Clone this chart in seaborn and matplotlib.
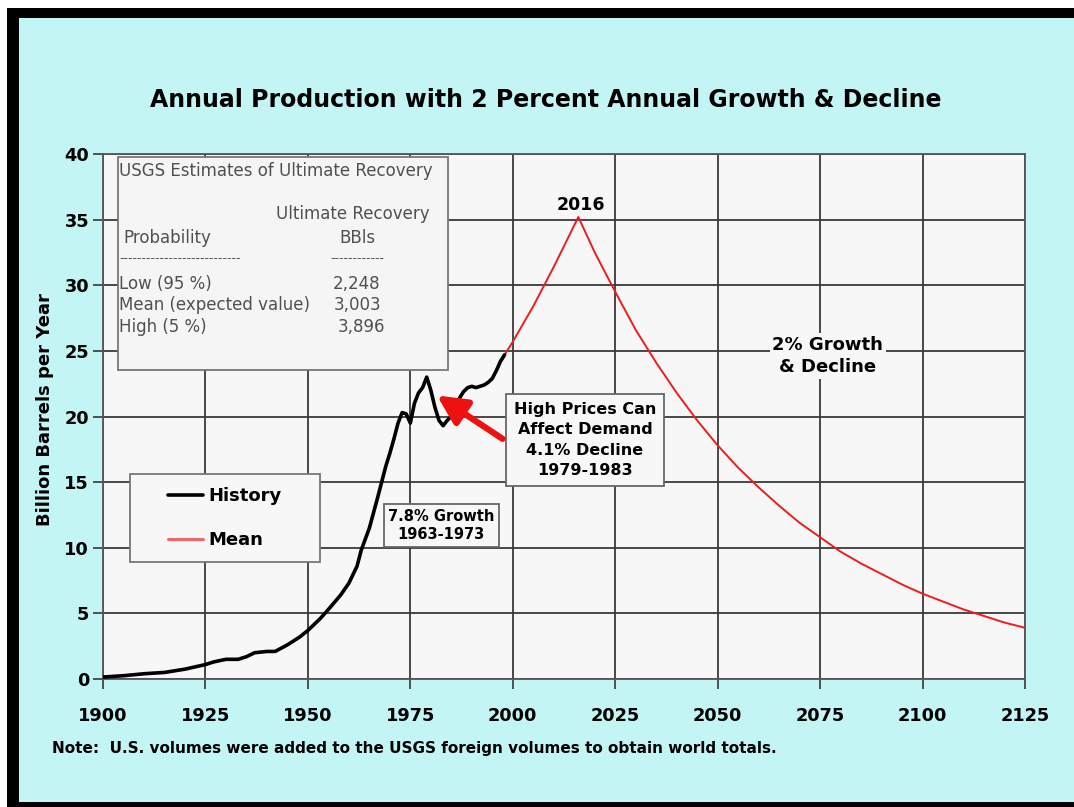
import matplotlib
matplotlib.use("Agg")
import matplotlib.pyplot as plt
from matplotlib.patches import Rectangle
import seaborn as sns
import pandas as pd

# ---------------- data ----------------
hist_years = [1900, 1905, 1910, 1915, 1920, 1925, 1927, 1930, 1933, 1935, 1937, 1940,
              1942, 1945, 1948, 1950, 1953, 1955, 1958, 1960, 1962, 1963, 1965, 1967,
              1969, 1970, 1971, 1972, 1973, 1974, 1975, 1976, 1977, 1978, 1979, 1980,
              1981, 1982, 1983, 1984, 1985, 1986, 1987, 1988, 1989, 1990, 1991, 1992,
              1993, 1994, 1995, 1996, 1997, 1998]
hist_values = [0.15, 0.25, 0.4, 0.5, 0.75, 1.1, 1.3, 1.5, 1.5, 1.7, 2.0, 2.1,
               2.1, 2.6, 3.2, 3.7, 4.6, 5.3, 6.4, 7.3, 8.6, 9.8, 11.5, 13.8,
               16.2, 17.2, 18.3, 19.5, 20.3, 20.2, 19.5, 21.0, 21.8, 22.2, 23.0, 22.0,
               20.7, 19.7, 19.3, 19.7, 20.0, 20.8, 21.4, 21.9, 22.2, 22.3, 22.2, 22.3,
               22.4, 22.6, 22.9, 23.5, 24.2, 24.7]

mean_years = [1998, 2000, 2005, 2010, 2016, 2020, 2025, 2030, 2035, 2040, 2045, 2050,
              2055, 2060, 2065, 2070, 2075, 2080, 2085, 2090, 2095, 2100, 2105, 2110,
              2115, 2120, 2125]
mean_values = [24.7, 25.7, 28.4, 31.4, 35.2, 32.5, 29.5, 26.6, 24.1, 21.8, 19.7, 17.8,
               16.1, 14.6, 13.2, 11.9, 10.8, 9.7, 8.8, 8.0, 7.2, 6.5, 5.9, 5.3,
               4.8, 4.3, 3.9]

x_ticks = [1900, 1925, 1950, 1975, 2000, 2025, 2050, 2075, 2100, 2125]
y_ticks = [0, 5, 10, 15, 20, 25, 30, 35, 40]

title = "Annual Production with 2 Percent Annual Growth & Decline"
ylabel = "Billion Barrels per Year"
note = "Note:  U.S. volumes were added to the USGS foreign volumes to obtain world totals."

usgs_title = "USGS Estimates of Ultimate Recovery"
prob_labels = ["Low (95 %)", "Mean (expected value)", "High (5 %)"]
recovery_values = ["2,248", "3,003", "3,896"]

# ---------------- style ----------------
sns.set_theme(style="white")
plt.rcParams['font.family'] = ['DejaVu Sans']
plt.rcParams['text.color'] = 'black'
plt.rcParams['xtick.labelcolor'] = 'black'
plt.rcParams['ytick.labelcolor'] = 'black'

fig = plt.figure(figsize=(10.74, 8.07), dpi=100)
fig.patch.set_facecolor("white")

W, H = 1074, 807
# black frame and cyan panel
fig.patches.append(Rectangle((7 / W, 0), 1, (H - 8) / H, transform=fig.transFigure,
                             facecolor="black", edgecolor="none", zorder=-10))
fig.patches.append(Rectangle((19 / W, 5 / H), 1, (H - 18 - 5) / H, transform=fig.transFigure,
                             facecolor="#c4f5f5", edgecolor="none", zorder=-9))

ax = fig.add_axes([103 / W, 1 - 679 / H, (1025 - 103) / W, (679 - 154) / H])
ax.set_facecolor("#f7f7f7")

df_hist = pd.DataFrame({"Year": hist_years, "Value": hist_values, "Series": "History"})
df_mean = pd.DataFrame({"Year": mean_years, "Value": mean_values, "Series": "Mean"})

sns.lineplot(data=df_mean, x="Year", y="Value", ax=ax, color="#ee1c1c", lw=1.4,
             label="Mean", zorder=4)
sns.lineplot(data=df_hist, x="Year", y="Value", ax=ax, color="black", lw=2.6,
             label="History", zorder=5)

ax.set_xlim(1900, 2125)
ax.set_ylim(0, 40)
ax.set_xticks(x_ticks)
ax.set_yticks(y_ticks)
ax.grid(True, color="#3a3a3a", lw=1.3, zorder=0)
ax.set_axisbelow(True)
for s in ax.spines.values():
    s.set_color("#555555")
    s.set_linewidth(1.3)
ax.tick_params(axis="both", which="both", direction="out", length=7, width=1.3,
               color="#444444", labelsize=12.8, labelcolor="black", left=True, bottom=True)
ax.tick_params(axis="x", pad=13)
ax.tick_params(axis="y", pad=3)
for lab in ax.get_xticklabels() + ax.get_yticklabels():
    lab.set_fontweight("bold")
ax.set_xlabel("")
ax.set_ylabel("")

# legend (frame drawn as a rectangle behind it)
ax.add_patch(Rectangle((1900 + (130 - 103) / 4.0978, (679 - 562) / 13.125),
                       (320 - 130) / 4.0978, (562 - 474) / 13.125,
                       facecolor="#f7f7f7", edgecolor="#777777", lw=1.3, zorder=6))
handles, labels = ax.get_legend_handles_labels()
order = [labels.index("History"), labels.index("Mean")]
leg = ax.legend([handles[i] for i in order], [labels[i] for i in order],
                loc="center left", bbox_to_anchor=((168 - 103) / 922, (679 - 518) / 525),
                frameon=False, prop={"weight": "bold", "size": 13}, handlelength=1.94,
                handletextpad=0.28, labelspacing=1.45, borderpad=0, borderaxespad=0,
                labelcolor="black")
leg.get_lines()[1].set_color("#ee6666")
leg.get_lines()[1].set_linewidth(2.2)
leg.set_zorder(7)

# USGS box
ax.add_patch(Rectangle((1903.7, 23.54), 1984.2 - 1903.7, 39.77 - 23.54,
                       facecolor="#f5f5f5", edgecolor="#777777", lw=1.3, zorder=6))
tcol = "#505050"
fs = 12
ax.text(1903.9, 38.7, usgs_title, ha="left", va="center", fontsize=fs, color=tcol, zorder=7)
ax.text(1961.0, 35.4, "Ultimate Recovery", ha="center", va="center", fontsize=fs, color=tcol, zorder=7)
ax.text(1905.0, 33.6, "Probability", ha="left", va="center", fontsize=fs, color=tcol, zorder=7)
ax.text(1962.0, 33.6, "BBls", ha="center", va="center", fontsize=fs, color=tcol, zorder=7)
ax.text(1903.9, 32.0, "-" * 27, ha="left", va="center", fontsize=9, color=tcol, zorder=7)
ax.text(1962.0, 32.0, "-" * 12, ha="center", va="center", fontsize=9, color=tcol, zorder=7)
for yv, lab, val, xo in zip([30.1, 28.5, 26.8], prob_labels, recovery_values, [1962.0, 1962.0, 1963.0]):
    ax.text(1903.8, yv, lab, ha="left", va="center", fontsize=fs, color=tcol, zorder=7)
    ax.text(xo, yv, val, ha="center", va="center", fontsize=fs, color=tcol, zorder=7)

# annotations
box = dict(boxstyle="square,pad=0.3", facecolor="#f7f7f7", edgecolor="#666666", lw=1.3)
ax.text(1982.5, 11.7, "7.8% Growth\n1963-1973", ha="center", va="center", fontsize=10.5,
        fontweight="bold", linespacing=1.3, bbox=box, zorder=7)
ax.text(2017.6, 18.2, "High Prices Can\nAffect Demand\n4.1% Decline\n1979-1983",
        ha="center", va="center", fontsize=11.5, fontweight="bold", linespacing=1.44,
        bbox=dict(boxstyle="square,pad=0.5", facecolor="#f7f7f7", edgecolor="#666666", lw=1.3),
        zorder=7)
ax.annotate("", xy=(1981.5, 21.6), xytext=(1997.5, 18.3),
            arrowprops=dict(arrowstyle="-|>,head_length=1.1,head_width=0.55", color="#ee1111",
                            lw=4.5, mutation_scale=16, shrinkA=0, shrinkB=0), zorder=7)
ax.text(2016.6, 36.1, "2016", ha="center", va="center", fontsize=12.5, fontweight="bold", zorder=7)
ax.text(2076.9, 24.6, "2% Growth\n& Decline", ha="center", va="center", fontsize=13,
        fontweight="bold", linespacing=1.3,
        bbox=dict(boxstyle="square,pad=0.15", facecolor="#f7f7f7", edgecolor="none"), zorder=7)

# figure texts
fig.text(546 / W, 1 - 100 / H, title, ha="center", va="center", fontsize=17, fontweight="bold")
fig.text(45 / W, 1 - 410 / H, ylabel, ha="center", va="center", rotation=90, fontsize=13,
         fontweight="bold")
fig.text(52 / W, 1 - 748 / H, note, ha="left", va="center", fontsize=11, fontweight="bold")

fig.savefig("out.png", dpi=100)
